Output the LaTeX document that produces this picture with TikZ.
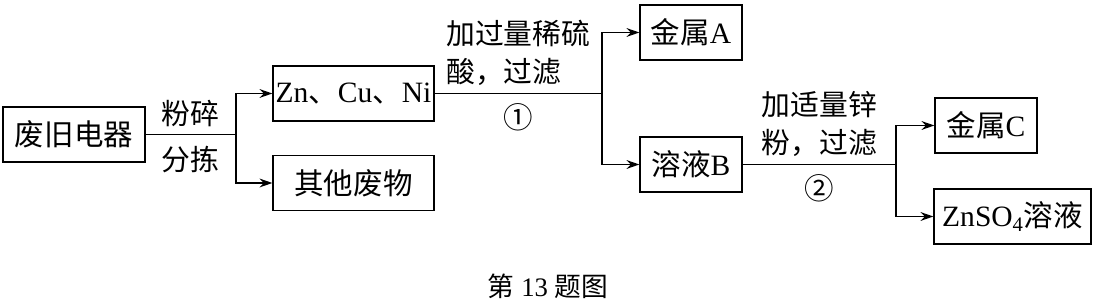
\documentclass[tikz,border=0pt]{standalone}
\usepackage{fontspec}
\setmainfont{Liberation Serif}
\newfontfamily\cjk{Noto Sans CJK SC}
\usetikzlibrary{arrows.meta, positioning}

\begin{document}
\begin{tikzpicture}[
    box/.style={draw, line width=0.9pt, minimum height=1.375cm, inner sep=0pt,
                font=\fontsize{21}{25}\selectfont},
    lbl/.style={font=\fontsize{20.5}{27.5}\selectfont, align=left, inner sep=5pt},
    num/.style={font=\fontsize{21}{25}\selectfont\cjk, inner sep=7pt},
    ln/.style={line width=0.9pt},
    arr/.style={-{Stealth[length=3.2mm, width=2.2mm]}, line width=0.9pt},
]
\useasboundingbox (0,0) rectangle (27.425,7.575);

% boxes
\node[box, minimum width=3.55cm]  (old)   at (1.85,4.2125)    {\cjk 废旧电器};
\node[box, minimum width=4.025cm] (mix)   at (8.8375,5.2375)  {Zn{\cjk 、}Cu{\cjk 、}Ni};
\node[box, minimum width=4.025cm] (waste) at (8.8375,3.0)     {\cjk 其他废物};
\node[box, minimum width=2.55cm]  (metA)  at (17.275,6.7625)  {{\cjk 金属}A};
\node[box, minimum width=2.55cm]  (solB)  at (17.275,3.4625)  {{\cjk 溶液}B};
\node[box, minimum width=2.55cm]  (metC)  at (24.65,4.4375)   {{\cjk 金属}C};
\node[box, minimum width=3.925cm] (znso)  at (25.3125,2.1625) {ZnSO\textsubscript{4}{\cjk 溶液}};

% branch points
\coordinate (b1) at (5.9,4.2125);
\coordinate (b2) at (15.05,5.2375);
\coordinate (b3) at (22.4,3.4625);

% step 0: sorting
\draw[ln] (old) -- node[lbl, above]{\cjk 粉碎} node[lbl, below, yshift=-3pt]{\cjk 分拣} (b1);
\draw[arr] (b1) |- (mix);
\draw[arr] (b1) |- (waste);

% step 1
\draw[ln] (mix) -- node[lbl, above]{\cjk 加过量稀硫\\\cjk 酸，过滤} node[num, below]{①} (b2);
\draw[arr] (b2) |- (metA);
\draw[arr] (b2) |- (solB);

% step 2
\draw[ln] (solB) -- node[lbl, above]{\cjk 加适量锌\\\cjk 粉，过滤} node[num, below]{②} (b3);
\draw[arr] (b3) |- (metC);
\draw[arr] (b3) |- (znso);

\node[font=\fontsize{19}{22}\selectfont] (cap) at (13.7,0.42) {{\cjk 第} 13 {\cjk 题图}};
\end{tikzpicture}
\end{document}
